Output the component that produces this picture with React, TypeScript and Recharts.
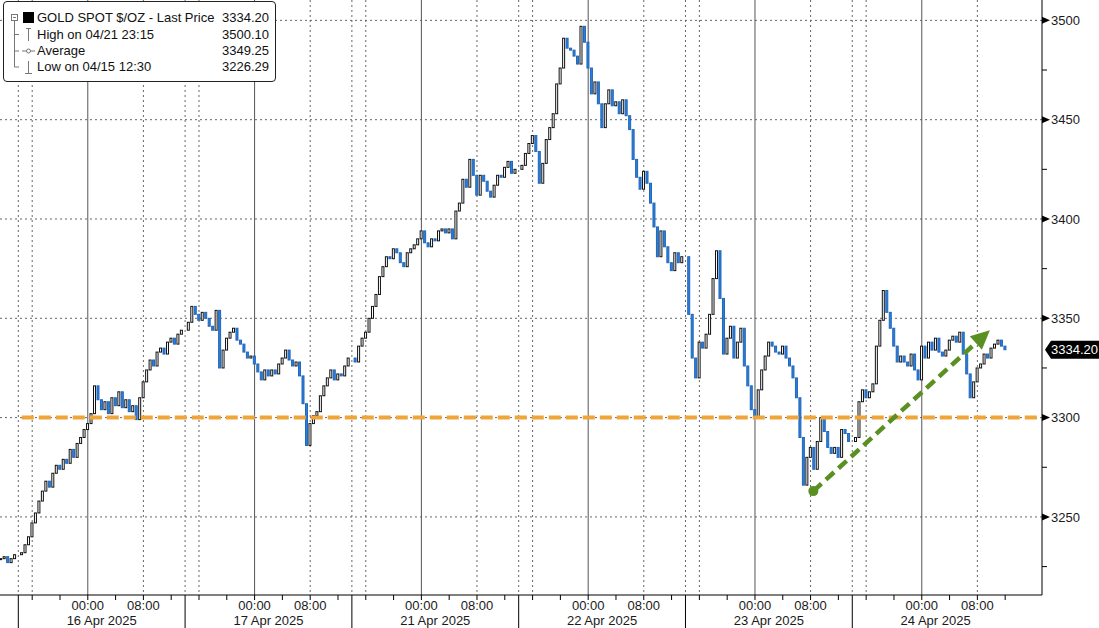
import React from "react";
import {
  ComposedChart,
  Bar,
  XAxis,
  YAxis,
  CartesianGrid,
  ReferenceLine,
  ReferenceDot,
} from "recharts";

const W = 1099;
const H = 628;
const FONT = "Liberation Sans, Arial, sans-serif";

// time axis is in hours, each trading session is 24h long
const sessionStarts = [0, 24, 48, 72, 96, 120];
const sessionDates = ["16 Apr 2025", "17 Apr 2025", "21 Apr 2025", "22 Apr 2025", "23 Apr 2025", "24 Apr 2025"];
const hourTickOffsets = [2, 6, 10, 14, 18, 22];
const hourLabels: Record<number, string> = { 10: "00:00", 18: "08:00" };
const xDomain: [number, number] = [-2.633, 147.3];

// 30 minute closes
const tailStart = -2.5;
const closes15Apr = [3229, 3230, 3227, 3229, 3231];
const closes16Apr = [
  3232, 3236, 3240, 3247, 3252, 3258, 3263, 3268, 3265, 3272,
  3276, 3274, 3279, 3277, 3284, 3280, 3287, 3290, 3294, 3297,
  3302, 3316, 3309, 3304, 3308, 3302, 3310, 3306, 3313, 3305,
  3309, 3303, 3306, 3299, 3310, 3318, 3324, 3329, 3326, 3333,
  3335, 3332, 3338, 3340, 3337, 3342, 3344,
];
const closes17Apr = [
  3348, 3356, 3352, 3349, 3353, 3350, 3346, 3344, 3354, 3325,
  3334, 3340, 3343, 3345, 3339, 3337, 3333, 3330, 3331, 3327,
  3323, 3319, 3324, 3321, 3324, 3322, 3327, 3330, 3334, 3329,
  3326, 3328, 3321, 3307, 3286, 3297, 3301, 3303, 3311, 3316,
  3320, 3324, 3319, 3322, 3321, 3326, 3330,
];
const closes21Apr = [
  3328, 3336, 3340, 3343, 3350, 3356, 3362, 3371, 3376, 3381,
  3380, 3385, 3383, 3378, 3376, 3383, 3385, 3387, 3390, 3394,
  3388, 3386, 3390, 3389, 3394, 3395, 3393, 3395, 3390, 3404,
  3408, 3420, 3416, 3430, 3422, 3412, 3422, 3419, 3414, 3411,
  3417, 3422, 3421, 3426, 3429, 3423, 3425,
];
const closes22Apr = [
  3427, 3433, 3438, 3442, 3434, 3418, 3428, 3440, 3446, 3453,
  3468, 3476, 3491, 3486, 3485, 3482, 3478, 3497, 3489, 3476,
  3463, 3469, 3458, 3446, 3458, 3465, 3457, 3459, 3453, 3460,
  3452, 3445, 3430, 3421, 3415, 3424, 3418, 3408, 3396, 3381,
  3394, 3386, 3378, 3374, 3383, 3378, 3381,
];
const closes23Apr = [
  3352, 3330, 3320, 3338, 3335, 3342, 3352, 3370, 3384, 3360,
  3332, 3340, 3346, 3330, 3338, 3345, 3326, 3316, 3304, 3300,
  3314, 3324, 3331, 3338, 3336, 3333, 3332, 3336, 3330, 3326,
  3320, 3310, 3290, 3266, 3280, 3285, 3274, 3288, 3300, 3293,
  3285, 3282, 3285, 3280, 3294, 3292, 3288,
];
const closes24Apr = [
  3290, 3308, 3314, 3310, 3313, 3317, 3336, 3349, 3364, 3353,
  3345, 3336, 3328, 3331, 3328, 3326, 3332, 3324, 3319, 3336,
  3330, 3338, 3334, 3340, 3333, 3331, 3334, 3339, 3341, 3338,
  3343, 3332, 3322, 3310, 3318, 3325, 3327, 3332, 3330, 3335,
  3337, 3339, 3336, 3334.2,
];
const sessionCloses = [closes16Apr, closes17Apr, closes21Apr, closes22Apr, closes23Apr, closes24Apr];

const lastPrice = 3334.2;
const supportLevel = 3300;
const trendFrom = { t: 114.4, price: 3263 };
const trendTo = { t: 139.8, price: 3344 };
const yTicks = [3225, 3250, 3275, 3300, 3325, 3350, 3375, 3400, 3425, 3450, 3475, 3500];
const yGrid = [3250, 3300, 3350, 3400, 3450, 3500];

const legendRows = [
  { label: "GOLD SPOT $/OZ - Last Price", value: "3334.20" },
  { label: "High on 04/21 23:15", value: "3500.10" },
  { label: "Average", value: "3349.25" },
  { label: "Low on 04/15 12:30", value: "3226.29" },
];

type Candle = { t: number; range: [number, number]; up: boolean };
const candles: Candle[] = [];
let prevClose: number | null = null;
const addCandle = (t: number, c: number) => {
  const o = prevClose ?? c;
  candles.push({ t, range: [Math.min(o, c), Math.max(o, c)], up: c >= o });
  prevClose = c;
};
closes15Apr.forEach((c, i) => addCandle(tailStart + i * 0.5, c));
sessionCloses.forEach((arr, d) =>
  arr.forEach((c, i) => addCandle(sessionStarts[d] + 0.5 + i * 0.5, c))
);

const xTicks: number[] = [];
sessionStarts.forEach((s, d) => {
  xTicks.push(s);
  hourTickOffsets.forEach((o) => {
    if (s + o < 143) xTicks.push(s + o);
  });
  xTicks.push(s + 12);
});
const dottedX: number[] = [];
const solidX: number[] = [];
sessionStarts.forEach((s) => {
  dottedX.push(s, s + 2, s + 18);
  solidX.push(s + 10);
});

const CandleShape = (props: any) => {
  const { x, y, width, height, payload } = props;
  if (x == null || y == null) return null;
  const top = height < 0 ? y + height : y;
  const h = Math.max(Math.abs(height || 0), 1);
  const up = payload && payload.up;
  return (
    <rect
      x={x + 0.5}
      y={top}
      width={Math.max(width - 1, 1)}
      height={h}
      fill={up ? "#ffffff" : "#2f7fd6"}
      stroke={up ? "#111111" : "#1e66bd"}
      strokeWidth={1}
    />
  );
};

const XTick = (props: any) => {
  const { x, y, payload } = props;
  const v = payload.value;
  const d = sessionStarts.findIndex((s) => v >= s && v < s + 24);
  const off = Math.round((v - sessionStarts[d]) * 10) / 10;
  if (off === 0) {
    return <line x1={x} y1={y} x2={x} y2={H} stroke="#000" strokeWidth={1} />;
  }
  if (off === 12) {
    return (
      <text x={x} y={y + 30} textAnchor="middle" fontSize={13} fill="#1a1a1a" fontFamily={FONT}>
        {sessionDates[d]}
      </text>
    );
  }
  return (
    <g>
      <line x1={x} y1={y} x2={x} y2={y + 5} stroke="#000" strokeWidth={1} />
      {hourLabels[off] && (
        <text x={x} y={y + 15} textAnchor="middle" fontSize={13} fill="#1a1a1a" fontFamily={FONT}>
          {hourLabels[off]}
        </text>
      )}
    </g>
  );
};

const YTick = (props: any) => {
  const { x, y, payload } = props;
  const v = payload.value;
  if (v % 50 !== 0) {
    return <line x1={x} y1={y} x2={x + 5} y2={y} stroke="#000" strokeWidth={1} />;
  }
  return (
    <g>
      <polygon points={`${x},${y - 3.5} ${x + 8},${y} ${x},${y + 3.5}`} fill="#000" />
      <text x={x + 9} y={y} dy="0.36em" fontSize={13} fill="#1a1a1a" fontFamily={FONT}>
        {v}
      </text>
    </g>
  );
};

const PriceTag = (props: any) => {
  const { cx, cy } = props;
  if (cx == null) return null;
  return (
    <g>
      <polygon
        points={`${cx + 3},${cy} ${cx + 9},${cy - 9} ${W},${cy - 9} ${W},${cy + 9} ${cx + 9},${cy + 9}`}
        fill="#000"
      />
      <text x={cx + 9} y={cy} dy="0.36em" fontSize={13} fill="#fff" fontFamily={FONT}>
        {lastPrice.toFixed(2)}
      </text>
    </g>
  );
};

const TrendArrow = (props: any) => {
  const { x1, y1, x2, y2 } = props;
  if (x1 == null) return null;
  const color = "#5a8f22";
  const dx = x2 - x1;
  const dy = y2 - y1;
  const len = Math.sqrt(dx * dx + dy * dy);
  const ux = dx / len;
  const uy = dy / len;
  const headLen = 19;
  const headHalf = 9;
  const bx = x2 - ux * headLen;
  const by = y2 - uy * headLen;
  const px = -uy;
  const py = ux;
  return (
    <g>
      <line x1={x1} y1={y1} x2={bx} y2={by} stroke={color} strokeWidth={4.5} strokeDasharray="11 6" />
      <circle cx={x1} cy={y1} r={5} fill={color} />
      <polygon
        points={`${x2},${y2} ${bx + px * headHalf},${by + py * headHalf} ${bx - px * headHalf},${by - py * headHalf}`}
        fill={color}
      />
    </g>
  );
};

const Legend = () => (
  <div
    style={{
      position: "absolute",
      left: 3,
      top: 1,
      width: 271,
      height: 79,
      border: "1px solid #222",
      borderRadius: 4,
      background: "#fff",
      fontFamily: FONT,
      fontSize: 13,
      color: "#111",
    }}
  >
    <svg width={40} height={79} style={{ position: "absolute", left: 0, top: 0 }}>
      <line x1={10.5} y1={19} x2={10.5} y2={65} stroke="#777" />
      <line x1={10.5} y1={32.5} x2={15} y2={32.5} stroke="#777" />
      <line x1={10.5} y1={49} x2={15} y2={49} stroke="#777" />
      <line x1={10.5} y1={65} x2={15} y2={65} stroke="#777" />
      <rect x={7.5} y={12.5} width={6} height={6} fill="#fff" stroke="#777" />
      <line x1={9} y1={15.5} x2={12} y2={15.5} stroke="#777" />
      <rect x={19} y={10} width={11} height={11} fill="#000" />
      <line x1={24.5} y1={26} x2={24.5} y2={39} stroke="#777" />
      <line x1={22} y1={26.5} x2={27} y2={26.5} stroke="#777" />
      <line x1={18} y1={49} x2={31} y2={49} stroke="#777" />
      <circle cx={24.5} cy={49} r={2} fill="#fff" stroke="#777" />
      <line x1={24.5} y1={59} x2={24.5} y2={71} stroke="#777" />
      <line x1={21} y1={71.5} x2={28} y2={71.5} stroke="#777" />
    </svg>
    {legendRows.map((r, i) => (
      <div
        key={r.label}
        style={{
          position: "absolute",
          left: 33,
          right: 6,
          top: [8, 24.5, 41, 57][i],
          height: 16,
          lineHeight: "16px",
          display: "flex",
          justifyContent: "space-between",
          whiteSpace: "nowrap",
        }}
      >
        <span>{r.label}</span>
        <span>{r.value}</span>
      </div>
    ))}
  </div>
);

export default function App() {
  return (
    <div style={{ position: "absolute", left: 0, top: 0, width: W, height: H, background: "#fff" }}>
      <ComposedChart
        width={W}
        height={H}
        data={candles}
        margin={{ top: 0, right: 0, bottom: 0, left: 0 }}
        style={{ fontFamily: FONT }}
      >
        <CartesianGrid
          stroke="#666"
          strokeDasharray="2 3"
          horizontalValues={yGrid}
          verticalValues={dottedX}
        />
        <CartesianGrid stroke="#555" horizontal={false} verticalValues={solidX} />
        <XAxis
          dataKey="t"
          type="number"
          domain={xDomain}
          allowDataOverflow
          ticks={xTicks}
          interval={0}
          tickSize={0}
          tickMargin={0}
          tickLine={false}
          tick={<XTick />}
          axisLine={{ stroke: "#000" }}
          height={33}
        />
        <YAxis
          orientation="right"
          type="number"
          domain={[3210.7, 3510.25]}
          allowDataOverflow
          ticks={yTicks}
          interval={0}
          width={57}
          tickSize={0}
          tickMargin={0}
          tickLine={false}
          tick={<YTick />}
          axisLine={{ stroke: "#000" }}
        />
        <ReferenceLine
          segment={[
            { x: 0.5, y: supportLevel },
            { x: xDomain[1], y: supportLevel },
          ]}
          stroke="#f0a53a"
          strokeWidth={4}
          strokeDasharray="12 5"
        />
        <Bar dataKey="range" barSize={3} shape={CandleShape} isAnimationActive={false} />
        <ReferenceLine
          segment={[
            { x: trendFrom.t, y: trendFrom.price },
            { x: trendTo.t, y: trendTo.price },
          ]}
          shape={TrendArrow}
        />
        <ReferenceDot x={xDomain[1]} y={lastPrice} ifOverflow="visible" shape={PriceTag} />
      </ComposedChart>
      <Legend />
    </div>
  );
}
